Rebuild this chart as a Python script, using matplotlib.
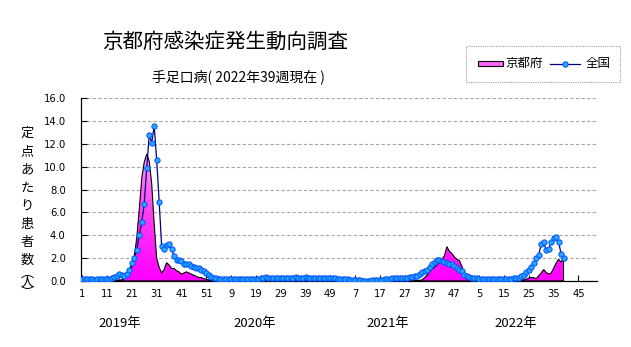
import numpy as np
import matplotlib
matplotlib.use('Agg')
import matplotlib.pyplot as plt
from matplotlib.patches import Rectangle, Polygon
from matplotlib.lines import Line2D
from matplotlib.colors import LinearSegmentedColormap

W, H = 631, 347

years = ['2019年', '2020年', '2021年', '2022年']
weeks_per_year = [52, 52, 52, 52]

# Kyoto prefecture (per sentinel), weekly
kyoto_2019 = [0.0, 0.0, 0.0, 0.0, 0.0, 0.0, 0.0, 0.0, 0.0, 0.0,
              0.0, 0.0, 0.0, 0.0, 0.05, 0.1, 0.1, 0.2, 0.35, 0.6,
              1.3, 2.2, 3.8, 6.3, 9.0, 10.4, 11.1, 10.5, 8.5, 5.0,
              2.0, 1.2, 0.7, 1.0, 1.6, 1.4, 1.1, 1.1, 0.9, 0.8,
              0.6, 0.7, 0.8, 0.7, 0.6, 0.5, 0.4, 0.3, 0.3, 0.2,
              0.15, 0.1]
kyoto_2020 = [0.1, 0.05, 0.05, 0.05, 0.05, 0.05, 0.0, 0.05, 0.05, 0.0,
              0.05, 0.05, 0.0, 0.05, 0.05, 0.05, 0.0, 0.0, 0.05, 0.05,
              0.05, 0.05, 0.0, 0.05, 0.05, 0.0, 0.05, 0.05, 0.05, 0.0,
              0.05, 0.05, 0.05, 0.0, 0.05, 0.05, 0.05, 0.0, 0.05, 0.05,
              0.0, 0.05, 0.05, 0.05, 0.0, 0.05, 0.05, 0.0, 0.05, 0.05,
              0.0, 0.05]
kyoto_2021 = [0.0, 0.0, 0.05, 0.0, 0.0, 0.0, 0.0, 0.0, 0.0, 0.0,
              0.0, 0.0, 0.0, 0.0, 0.0, 0.0, 0.0, 0.0, 0.0, 0.05,
              0.0, 0.0, 0.05, 0.0, 0.05, 0.0, 0.05, 0.05, 0.05, 0.1,
              0.05, 0.05, 0.05, 0.1, 0.3, 0.5, 0.8, 1.0, 1.2, 1.4,
              1.6, 1.9, 2.2, 3.0, 2.6, 2.4, 2.1, 1.9, 1.8, 1.3,
              0.6, 0.2]
kyoto_2022 = [0.05, 0.05, 0.0, 0.05, 0.05, 0.0, 0.05, 0.05, 0.05, 0.0,
              0.05, 0.05, 0.05, 0.05, 0.05, 0.05, 0.05, 0.05, 0.05, 0.05,
              0.05, 0.1, 0.1, 0.15, 0.25, 0.3, 0.3, 0.2, 0.45, 0.7,
              1.0, 0.75, 0.6, 0.7, 1.1, 1.55, 1.9, 1.65, 2.0]

# Nationwide (per sentinel), weekly
national_2019 = [0.15, 0.15, 0.15, 0.15, 0.15, 0.1, 0.15, 0.15, 0.15, 0.15,
                 0.15, 0.2, 0.25, 0.35, 0.45, 0.65, 0.5, 0.45, 0.65, 0.97,
                 1.55, 2.0, 2.75, 4.0, 5.15, 6.75, 9.9, 12.75, 12.1, 13.55,
                 10.6, 6.95, 3.1, 2.8, 3.15, 3.2, 2.8, 2.15, 1.8, 1.8,
                 1.75, 1.5, 1.5, 1.5, 1.35, 1.25, 1.1, 1.15, 0.95, 0.85,
                 0.7, 0.55]
national_2020 = [0.35, 0.27, 0.22, 0.2, 0.18, 0.18, 0.15, 0.15, 0.15, 0.15,
                 0.15, 0.15, 0.15, 0.15, 0.15, 0.15, 0.15, 0.15, 0.18, 0.2,
                 0.22, 0.3, 0.35, 0.3, 0.25, 0.28, 0.3, 0.25, 0.22, 0.28,
                 0.3, 0.25, 0.22, 0.3, 0.32, 0.3, 0.28, 0.3, 0.32, 0.28,
                 0.25, 0.3, 0.28, 0.25, 0.28, 0.3, 0.25, 0.22, 0.25, 0.25,
                 0.22, 0.2]
national_2021 = [0.18, 0.15, 0.15, 0.15, 0.12, 0.1, 0.08, 0.05, 0.05, 0.03,
                 0.03, 0.03, 0.03, 0.05, 0.05, 0.05, 0.08, 0.12, 0.15, 0.18,
                 0.2, 0.22, 0.22, 0.25, 0.28, 0.3, 0.3, 0.3, 0.32, 0.35,
                 0.4, 0.45, 0.6, 0.75, 0.9, 1.0, 1.25, 1.45, 1.65, 1.8,
                 1.85, 1.75, 1.68, 1.58, 1.52, 1.48, 1.32, 1.12, 1.0, 0.85,
                 0.55, 0.4]
national_2022 = [0.35, 0.3, 0.25, 0.22, 0.2, 0.18, 0.18, 0.15, 0.15, 0.15,
                 0.15, 0.15, 0.15, 0.18, 0.2, 0.2, 0.18, 0.2, 0.22, 0.26,
                 0.3, 0.4, 0.55, 0.75, 0.97, 1.2, 1.55, 2.0, 2.3, 3.2,
                 3.4, 2.7, 2.8, 3.4, 3.8, 3.85, 3.45, 2.4, 2.05]

series_labels = ['京都府', '全国']
title = '京都府感染症発生動向調査'
subtitle = '手足口病( 2022年39週現在 )'
ylabel_main = '定点あたり患者数'
ylabel_unit = '︵人︶'

kyoto = np.array(kyoto_2019 + kyoto_2020 + kyoto_2021 + kyoto_2022)
national = np.array(national_2019 + national_2020 + national_2021 + national_2022)
week_labels = [w for n in weeks_per_year for w in range(1, n + 1)]
n_cat = len(week_labels)
x = np.arange(len(kyoto))

JP = ['Noto Sans CJK JP', 'DejaVu Sans']
NUM = ['DejaVu Sans']

fig = plt.figure(figsize=(W / 100, H / 100), dpi=100)
fig.patch.set_facecolor('white')


def fx(p):
    return p / W


def fy(p):
    return 1 - p / H


ax = fig.add_axes([fx(81), fy(281), fx(597) - fx(81), fy(98) - fy(281)])

# Kyoto area with vertical gradient
verts = [(x[0], 0)] + list(zip(x, kyoto)) + [(x[-1], 0)]
clip = Polygon(verts, closed=True, facecolor='none', edgecolor='none')
ax.add_patch(clip)
cmap = LinearSegmentedColormap.from_list('pk', ['#ff00ff', '#ff40f0', '#ffa8ff'])
grad = np.linspace(0, 1, 256).reshape(-1, 1)
im = ax.imshow(grad, extent=[-0.5, n_cat - 0.5, 0, 12], origin='lower',
               aspect='auto', cmap=cmap, zorder=1, interpolation='bilinear')
im.set_clip_path(clip)
ax.add_patch(Polygon(verts, closed=True, facecolor='none', edgecolor='black',
                     lw=0.8, zorder=2))

# National line
MK = dict(marker='o', markersize=3.8, markerfacecolor='#2aa8ff',
          markeredgecolor='#0050ff', markeredgewidth=0.7)
ax.plot(x, national, color='#000080', lw=0.9, zorder=3, **MK)

ax.set_xlim(-0.5, n_cat - 0.5)
ax.set_ylim(0, 16)
ax.set_yticks(np.arange(0, 17, 2))
ax.set_yticklabels([f'{v:.1f}' for v in np.arange(0, 17, 2)], family=NUM,
                   fontstretch='condensed')
xt = np.arange(0, n_cat, 10)
ax.set_xticks(xt)
ax.set_xticklabels([str(week_labels[i]) for i in xt], family=NUM,
                   fontstretch='condensed')
ax.tick_params(axis='both', direction='in', length=4, width=0.8,
               labelsize=8, colors='black')
ax.tick_params(axis='y', pad=11)
ax.tick_params(axis='x', pad=6)
ax.yaxis.grid(True, color='#aaa2aa', linestyle=(0, (3, 2)), lw=0.8)
ax.set_axisbelow(True)
for s in ['top', 'right']:
    ax.spines[s].set_visible(False)
for s in ['left', 'bottom']:
    ax.spines[s].set_linewidth(0.9)
    ax.spines[s].set_color('black')

# Titles
fig.text(fx(225), fy(42), title, family=JP, fontsize=14.8, ha='center', va='center')
fig.text(fx(238), fy(77), subtitle, family=JP, fontsize=10, ha='center', va='center')

# y label, stacked vertically
fig.text(fx(27), fy(197), '\n'.join(ylabel_main), family=JP, fontsize=9.5,
         ha='center', va='center', linespacing=1.52)
fig.text(fx(27), fy(283), '\n'.join(ylabel_unit), family=JP, fontsize=9.5,
         ha='center', va='center', linespacing=0.72)

# Year labels
for lab, px in zip(years, [120, 255, 388, 516]):
    fig.text(fx(px), fy(323), lab, family=JP, fontsize=9.5, ha='center', va='center')

# Legend (manual)
fig.patches.append(Rectangle((fx(466), fy(82)), fx(620) - fx(466), fy(46) - fy(82),
                             transform=fig.transFigure, fill=False,
                             edgecolor='#a0a0a0', lw=0.8, linestyle=(0, (1, 1))))
fig.patches.append(Rectangle((fx(478), fy(66)), fx(503) - fx(478), fy(61) - fy(66),
                             transform=fig.transFigure, facecolor='#ff66ff',
                             edgecolor='black', lw=0.8))
fig.text(fx(505), fy(63.5), series_labels[0], family=JP, fontsize=9, ha='left', va='center')
fig.lines.append(Line2D([fx(550), fx(580)], [fy(63.5), fy(63.5)], transform=fig.transFigure,
                        color='#000080', lw=0.9))
fig.lines.append(Line2D([fx(565)], [fy(63.5)], transform=fig.transFigure, **MK))
fig.text(fx(586), fy(63.5), series_labels[1], family=JP, fontsize=9, ha='left', va='center')

fig.savefig('out.png', dpi=100)
